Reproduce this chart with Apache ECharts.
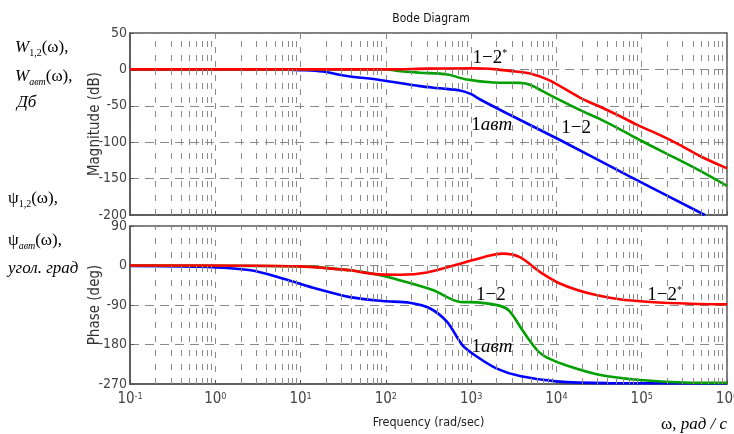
<!DOCTYPE html>
<html>
<head>
<meta charset="utf-8">
<script src="https://cdn.jsdelivr.net/npm/echarts@6/dist/echarts.min.js"></script>
<style>
  html, body { margin: 0; background: #fff; }
  #chart { width: 734px; height: 434px; }
</style>
</head>
<body>
<div id="chart"></div>
<script>
// magnitude, dB (frequency in rad/s)
const magBlueW = [0.1, 5.8, 10, 18, 35, 85, 250, 430, 740, 1000, 1260, 2800, 11000, 72000, 550000]
const magBlueDb = [0, 0, -1, -3, -9, -14.5, -23, -26, -29, -34, -41, -62, -97, -147, -200]
const magGreenW = [0.1, 10, 100, 148, 250, 525, 890, 1820, 3700, 4900, 8300, 19000, 32000, 55000, 95000, 162000, 282000, 480000, 1e6]
const magGreenDb = [0, 0, 0, -2.5, -4.5, -7, -14, -18, -18.5, -21, -35, -56, -68, -82, -97, -111, -125, -139, -160]
const magRedW = [0.1, 10, 100, 316, 1000, 2000, 2800, 4900, 8300, 19000, 32000, 55000, 95000, 162000, 282000, 480000, 1e6]
const magRedDb = [0, 0, 0, 1, 1.5, 0, -2, -5.5, -15, -39, -51, -64, -78, -90, -104, -119, -136]

// phase, deg
const phBlueW = [0.1, 0.66, 2.6, 6.3, 15.5, 38, 93, 190, 331, 525, 794, 1175, 2000, 3720, 10000, 38900, 1e6]
const phBlueDeg = [-1, -3, -11, -30, -53, -72, -81, -85, -98, -129, -182, -208, -235, -252, -264, -268, -268.5]
const phGreenW = [0.1, 10, 38, 71, 148, 355, 741, 1175, 2190, 2820, 3980, 5250, 6310, 7760, 13200, 31600, 95500, 372000, 1e6]
const phGreenDeg = [0, -2, -11, -19, -34, -56, -83, -84, -92, -104, -147, -180, -198, -210, -228, -249, -261, -267, -267.5]
const phRedW = [0.1, 0.66, 10, 20, 38, 71, 148, 302, 741, 1660, 2340, 3720, 6460, 10960, 24500, 55000, 126000, 372000, 1e6]
const phRedDeg = [0, 0, -2, -6, -11, -19, -21, -16, 4, 23, 27, 19, -15, -41, -64, -77, -83, -87, -88.5]

// curve captions: [frequency, value]
const magCaptions = { red: [1660, 16], blue: [1740, -76], green: [17000, -80] }
const phCaptions = { green: [1700, -67], blue: [1750, -186], red: [186000, -67] }

// decade exponents of the frequency axis
const decades = [-1, 0, 1, 2, 3, 4, 5]

const narrow = "'Liberation Sans Narrow', 'DejaVu Sans Condensed', 'Arial Narrow', 'Liberation Sans', sans-serif"
const serif = "'Liberation Serif', 'Times New Roman', serif"
const RED = '#ff0000', GREEN = '#00a000', BLUE = '#0000ff'

// the x axes run in log10(frequency)
const lg = Math.log10
const zip = (w, v) => w.map((x, i) => [lg(x), v[i]])
const at = (p) => [lg(p[0]), p[1]]

// minor log grid lines 2..9 per decade
const minorLines = []
decades.forEach(k => {
  for (let m = 2; m <= 9; m++) minorLines.push({ xAxis: lg(m) + k })
})

const gridSeries = (idx) => ({
  type: 'line',
  xAxisIndex: idx,
  yAxisIndex: idx,
  data: [],
  silent: true,
  z: 1,
  markLine: {
    silent: true,
    symbol: 'none',
    label: { show: false },
    lineStyle: { color: '#8a8a8a', width: 1, type: [6, 8] },
    data: minorLines
  }
})

const capLabel = (text) => ({
  show: true,
  position: 'inside',
  color: '#000',
  formatter: text,
  rich: {
    n: { fontFamily: serif, fontSize: 19, color: '#000' },
    i: { fontFamily: serif, fontSize: 19, fontStyle: 'italic', color: '#000' },
    sup: { fontFamily: serif, fontSize: 10, color: '#000', verticalAlign: 'top', lineHeight: 10 }
  }
})

const caption = (coord, text) => ({
  symbol: 'circle',
  symbolSize: 1,
  silent: true,
  itemStyle: { color: 'rgba(0,0,0,0)' },
  label: capLabel(text),
  data: [{ coord: at(coord) }]
})

const curve = (idx, w, v, color, mp) => ({
  type: 'line',
  xAxisIndex: idx,
  yAxisIndex: idx,
  data: zip(w, v),
  showSymbol: false,
  smooth: 0.3,
  z: 3,
  lineStyle: { color: color, width: 2.6 },
  itemStyle: { color: color },
  markPoint: mp
})

const xAxisBase = (idx, showLabels) => ({
  type: 'value',
  gridIndex: idx,
  min: -1,
  max: 6,
  interval: 1,
  axisLine: { onZero: false, lineStyle: { color: '#555', width: 1.5 } },
  axisTick: { show: true, inside: true, length: 4, lineStyle: { color: '#555' } },
  splitLine: { show: true, lineStyle: { color: '#8a8a8a', width: 1, type: [6, 8] } },
  axisLabel: showLabels ? {
    color: '#444',
    margin: 8,
    formatter: v => '{b|10}{s|' + v + '}',
    rich: {
      b: { fontFamily: narrow, fontSize: 15, color: '#444' },
      s: { fontFamily: narrow, fontSize: 9, color: '#444', verticalAlign: 'top', lineHeight: 9 }
    }
  } : { show: false },
  name: showLabels ? 'Frequency (rad/sec)' : '',
  nameLocation: 'middle',
  nameGap: 32,
  nameMoveOverlap: false,
  nameTextStyle: { fontFamily: narrow, fontSize: 12.5, color: '#222' }
})

const yAxisBase = (idx, min, max, step, name) => ({
  type: 'value',
  gridIndex: idx,
  min: min,
  max: max,
  interval: step,
  name: name,
  nameLocation: 'middle',
  nameGap: 27,
  nameMoveOverlap: false,
  nameTextStyle: { fontFamily: narrow, fontSize: 15, color: '#333' },
  axisLine: { show: true, onZero: false, lineStyle: { color: '#555', width: 1.5 } },
  axisTick: { show: true, inside: true, length: 4, lineStyle: { color: '#555' } },
  axisLabel: { fontFamily: narrow, fontSize: 14, color: '#444', margin: 3 },
  splitLine: { show: true, lineStyle: { color: '#8a8a8a', width: 1, type: [9, 6] } }
})

const leftRich = {
  i: { fontFamily: serif, fontSize: 17, fontStyle: 'italic', color: '#111', lineHeight: 22 },
  n: { fontFamily: serif, fontSize: 17, color: '#111', lineHeight: 22 },
  sub: { fontFamily: serif, fontSize: 10, color: '#111', verticalAlign: 'bottom', lineHeight: 12 },
  subi: { fontFamily: serif, fontSize: 10, fontStyle: 'italic', color: '#111', verticalAlign: 'bottom', lineHeight: 12 }
}

const leftText = (left, top, text) => ({
  type: 'text', left: left, top: top,
  style: { text: text, rich: leftRich }
})

const chart = echarts.init(document.getElementById('chart'))

chart.setOption({
  animation: false,
  backgroundColor: '#fff',
  title: {
    text: 'Bode Diagram',
    left: 426,
    top: 8,
    textAlign: 'center',
    textStyle: { fontFamily: narrow, fontSize: 12, fontWeight: 'normal', color: '#111' }
  },
  grid: [
    { left: 130, top: 33, right: 7, height: 182, show: true, borderColor: '#555', borderWidth: 1.5, outerBoundsMode: 'none', containLabel: false },
    { left: 130, top: 226, right: 7, height: 158, show: true, borderColor: '#555', borderWidth: 1.5, outerBoundsMode: 'none', containLabel: false }
  ],
  xAxis: [xAxisBase(0, false), xAxisBase(1, true)],
  yAxis: [
    yAxisBase(0, -200, 50, 50, 'Magnitude (dB)'),
    yAxisBase(1, -270, 90, 90, 'Phase (deg)')
  ],
  graphic: [
    leftText(15, 39, '{i|W}{sub|1,2}{n|(ω),}'),
    leftText(15, 68, '{i|W}{subi|авт}{n|(ω),}'),
    leftText(17, 94, '{i|Дб}'),
    leftText(8, 190, '{n|ψ}{sub|1,2}{n|(ω),}'),
    leftText(8, 232, '{n|ψ}{subi|авт}{n|(ω),}'),
    leftText(8, 260, '{i|угол. град}'),
    leftText(661, 416, '{n|ω, }{i|рад / с}')
  ],
  series: [
    gridSeries(0),
    gridSeries(1),
    curve(0, magBlueW, magBlueDb, BLUE, caption(magCaptions.blue, '{n|1}{i|авт}')),
    curve(0, magGreenW, magGreenDb, GREEN, caption(magCaptions.green, '{n|1−2}')),
    curve(0, magRedW, magRedDb, RED, caption(magCaptions.red, '{n|1−2}{sup|*}')),
    curve(1, phBlueW, phBlueDeg, BLUE, caption(phCaptions.blue, '{n|1}{i|авт}')),
    curve(1, phGreenW, phGreenDeg, GREEN, caption(phCaptions.green, '{n|1−2}')),
    curve(1, phRedW, phRedDeg, RED, caption(phCaptions.red, '{n|1−2}{sup|*}'))
  ]
})
</script>
</body>
</html>
